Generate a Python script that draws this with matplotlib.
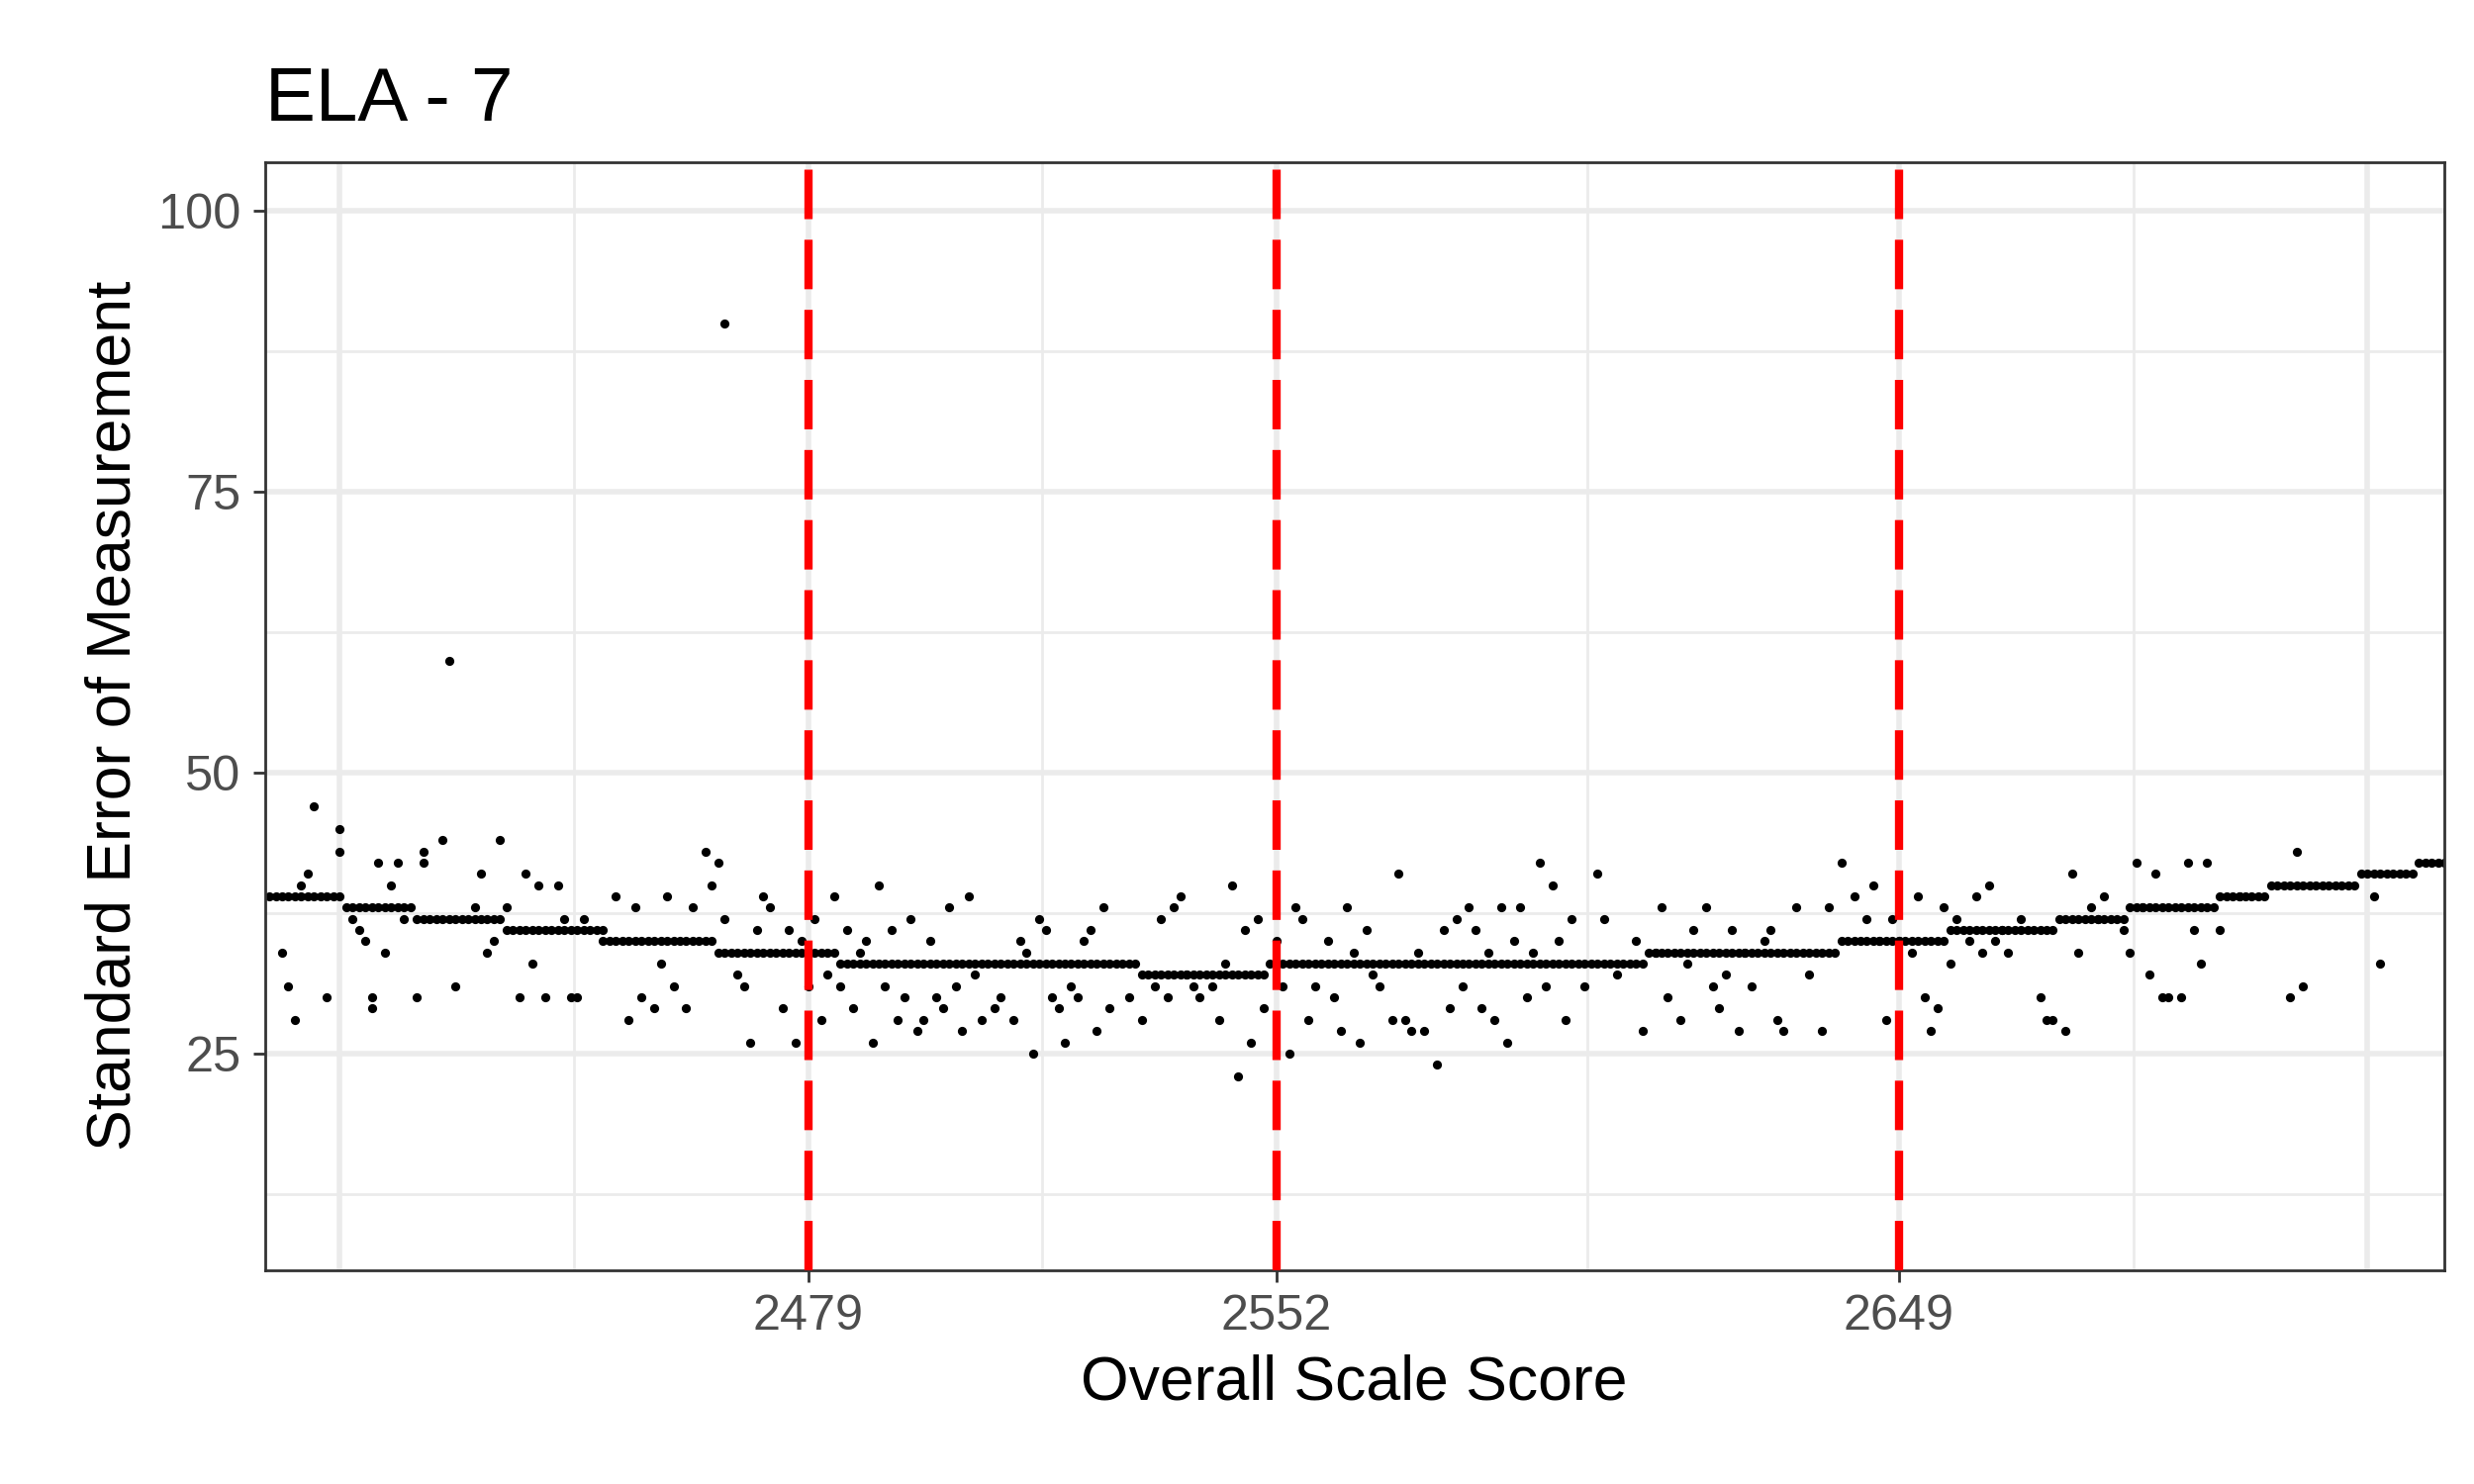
import numpy as np
import matplotlib
matplotlib.use("Agg")
import matplotlib.pyplot as plt

plt.rcParams["font.family"] = "Liberation Sans"

title = "ELA - 7"
cut_scores = [2479, 2552, 2649]
x_grid_major = [2406, 2479, 2552, 2649, 2722]
x_ticks = [2479, 2552, 2649]
x_labels = ["2479", "2552", "2649"]
y_breaks = [25, 50, 75, 100]

# band of typical SEM per score range (start, end, sem)
band_start = [2394, 2407, 2418, 2432, 2447, 2465, 2484, 2531, 2551, 2610, 2640, 2657, 2674, 2685, 2699, 2707, 2721, 2730]
band_end   = [2406, 2417, 2431, 2446, 2464, 2483, 2530, 2550, 2609, 2639, 2656, 2673, 2684, 2698, 2706, 2720, 2729, 2734]
band_sem   = [39, 38, 37, 36, 35, 34, 33, 32, 33, 34, 35, 36, 37, 38, 39, 40, 41, 42]

out_x = [2466, 2423, 2397, 2398, 2399, 2400, 2401, 2402, 2404, 2406, 2406, 2408, 2409, 2410, 2411, 2411, 2412, 2413, 2414, 2415, 2416, 2418, 2419, 2419, 2422, 2424, 2427, 2428, 2429, 2430, 2431, 2432, 2434, 2435, 2436, 2437, 2438, 2440, 2441, 2442, 2443, 2444, 2447, 2449, 2451, 2452, 2453, 2455, 2456, 2457, 2458, 2460, 2461, 2463, 2464, 2465, 2466, 2468, 2469, 2470, 2471, 2472, 2473, 2475, 2476, 2477, 2478, 2479, 2480, 2481, 2482, 2483, 2484, 2485, 2486, 2487, 2488, 2489, 2490, 2491, 2492, 2493, 2494, 2495, 2496, 2497, 2498, 2499, 2500, 2501, 2502, 2503, 2504, 2505, 2506, 2508, 2509, 2511, 2512, 2513, 2514, 2515, 2516, 2517, 2518, 2519, 2520, 2521, 2522, 2523, 2524, 2525, 2526, 2529, 2531, 2533, 2534, 2535, 2536, 2537, 2538, 2539, 2540, 2542, 2543, 2544, 2545, 2546, 2547, 2548, 2549, 2550, 2552, 2553, 2554, 2555, 2556, 2557, 2558, 2560, 2561, 2562, 2563, 2564, 2565, 2566, 2567, 2568, 2570, 2571, 2572, 2573, 2574, 2575, 2577, 2578, 2579, 2580, 2581, 2582, 2583, 2584, 2585, 2586, 2587, 2588, 2589, 2590, 2591, 2592, 2593, 2594, 2595, 2596, 2597, 2598, 2600, 2602, 2603, 2605, 2608, 2609, 2611, 2612, 2613, 2615, 2616, 2617, 2619, 2620, 2621, 2622, 2623, 2624, 2625, 2626, 2628, 2629, 2630, 2631, 2633, 2635, 2637, 2638, 2640, 2642, 2644, 2645, 2646, 2647, 2648, 2649, 2651, 2652, 2653, 2654, 2655, 2656, 2657, 2658, 2660, 2661, 2662, 2663, 2664, 2665, 2666, 2668, 2671, 2672, 2673, 2675, 2676, 2677, 2679, 2680, 2681, 2684, 2685, 2686, 2687, 2688, 2689, 2690, 2691, 2693, 2694, 2695, 2696, 2697, 2699, 2702, 2710, 2711, 2712, 2723, 2724]
out_y = [90, 60, 34, 31, 28, 40, 41, 47, 30, 45, 43, 37, 36, 35, 30, 29, 42, 34, 40, 42, 37, 30, 43, 42, 44, 31, 38, 41, 34, 35, 44, 38, 30, 41, 33, 40, 30, 40, 37, 30, 30, 37, 36, 39, 28, 38, 30, 29, 33, 39, 31, 29, 38, 43, 40, 42, 37, 32, 31, 26, 36, 39, 38, 29, 36, 26, 35, 31, 37, 28, 32, 39, 31, 36, 29, 34, 35, 26, 40, 31, 36, 28, 30, 37, 27, 28, 35, 30, 29, 38, 31, 27, 39, 32, 28, 29, 30, 28, 35, 34, 25, 37, 36, 30, 29, 26, 31, 30, 35, 36, 27, 38, 29, 30, 28, 31, 37, 30, 38, 39, 32, 31, 30, 31, 28, 33, 40, 23, 36, 26, 37, 29, 35, 31, 25, 38, 37, 28, 31, 35, 30, 27, 38, 34, 26, 36, 32, 31, 28, 41, 28, 27, 34, 27, 24, 36, 29, 37, 31, 38, 36, 29, 34, 28, 38, 26, 35, 38, 30, 34, 42, 31, 40, 35, 28, 37, 31, 41, 37, 32, 35, 27, 34, 38, 30, 28, 33, 36, 38, 31, 29, 32, 36, 27, 34, 31, 35, 36, 28, 27, 38, 32, 27, 38, 42, 39, 37, 40, 35, 28, 37, 35, 34, 39, 30, 27, 29, 38, 33, 37, 35, 39, 34, 40, 35, 36, 34, 37, 30, 28, 28, 27, 41, 34, 38, 37, 39, 36, 34, 42, 38, 32, 41, 30, 30, 30, 42, 36, 33, 42, 36, 39, 30, 43, 31, 39, 33]

bx, by = [], []
for s, e, v in zip(band_start, band_end, band_sem):
    for sc in range(s, e + 1):
        bx.append(sc); by.append(v)

fig = plt.figure(figsize=(10, 6), dpi=250)
ax = fig.add_axes([0.107, 0.144, 0.881, 0.747])
ax.set_xlim(2394.3, 2734.0)
ax.set_ylim(5.7, 104.4)
ax.set_facecolor("white")

minor_x = [(a + b) / 2 for a, b in zip(x_grid_major[:-1], x_grid_major[1:])]
for v in x_grid_major:
    ax.axvline(v, color="#ebebeb", lw=1.6, zorder=0)
for v in minor_x:
    ax.axvline(v, color="#ebebeb", lw=0.8, zorder=0)
for v in y_breaks:
    ax.axhline(v, color="#ebebeb", lw=1.6, zorder=0)
for v in [12.5, 37.5, 62.5, 87.5]:
    ax.axhline(v, color="#ebebeb", lw=0.8, zorder=0)

ax.scatter(bx, by, s=7, color="black", linewidths=0, zorder=2)
ax.scatter(out_x, out_y, s=7, color="black", linewidths=0, zorder=2)
for c in cut_scores:
    ax.axvline(c, color="#ff0000", lw=2.4, linestyle=(0, (6, 2.5)), zorder=3)

ax.set_xticks(x_ticks)
ax.set_xticklabels(x_labels)
ax.set_yticks(y_breaks)
for t in ax.get_xticklabels() + ax.get_yticklabels():
    t.set_fontsize(14.5); t.set_color("#4d4d4d")
ax.tick_params(length=3.5, color="#333333", width=0.8)
for sp in ax.spines.values():
    sp.set_color("#333333"); sp.set_linewidth(0.8)
ax.set_xlabel("Overall Scale Score", fontsize=18)
ax.set_ylabel("Standard Error of Measurement", fontsize=18)
ax.set_title(title, fontsize=22, loc="left", pad=12)
fig.savefig("out.png", dpi=250)
